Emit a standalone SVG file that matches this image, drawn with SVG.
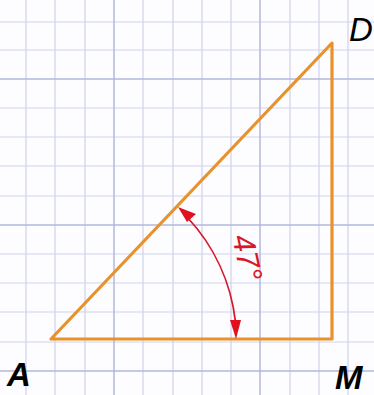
<svg xmlns="http://www.w3.org/2000/svg" width="374" height="395" viewBox="0 0 374 395">
<defs>
<style>
.g{stroke:#cfd3ec;stroke-width:1.2}
.gm{stroke:#b3b8de;stroke-width:1.5}
.side{stroke:#e8922e;stroke-width:3.2;fill:none;stroke-linecap:round;stroke-linejoin:round}
.arc{stroke:#d8182a;stroke-width:1.8;fill:none}
.head{fill:#e0101f}
.lbl{font-family:"Liberation Sans",Arial,sans-serif;font-weight:bold;font-style:italic;font-size:33px;fill:#000}
.ang{font-family:"Liberation Sans",Arial,sans-serif;font-style:italic;font-size:31px;fill:#d8182a}
</style>
</defs>
<rect width="374" height="395" fill="#fdfdff"/>
<g id="grid">
<path class="g" d="M26,0V395M55,0V395M85,0V395M143,0V395M173,0V395M202,0V395M231,0V395M290,0V395M319,0V395M348,0V395"/>
<path class="g" d="M0,22H374M0,50H374M0,108H374M0,137H374M0,166H374M0,196H374M0,254H374M0,283H374M0,312H374M0,342H374"/>
<path class="gm" d="M114,0V395M260,0V395M0,79H374M0,225H374M0,371H374"/>
</g>
<g id="connectors">
<path class="side" d="M51,339 L332,339 L332,43 Z"/>
</g>
<g id="angle">
<path class="arc" d="M187,217 A184,184 0 0 1 235.5,322"/>
<path class="head" d="M178,207 L196,214 L187,222 Z"/>
<path class="head" d="M236,339 L230,320 L241,320 Z"/>
<text class="ang" transform="translate(245,258) rotate(78)" text-anchor="middle" dominant-baseline="middle">47°</text>
</g>
<g id="node-A"><text class="lbl" x="7" y="386">A</text></g>
<g id="node-M"><text class="lbl" x="335" y="389">M</text></g>
<g id="node-D"><text class="lbl" x="349" y="41" style="font-weight:normal">D</text></g>
</svg>
